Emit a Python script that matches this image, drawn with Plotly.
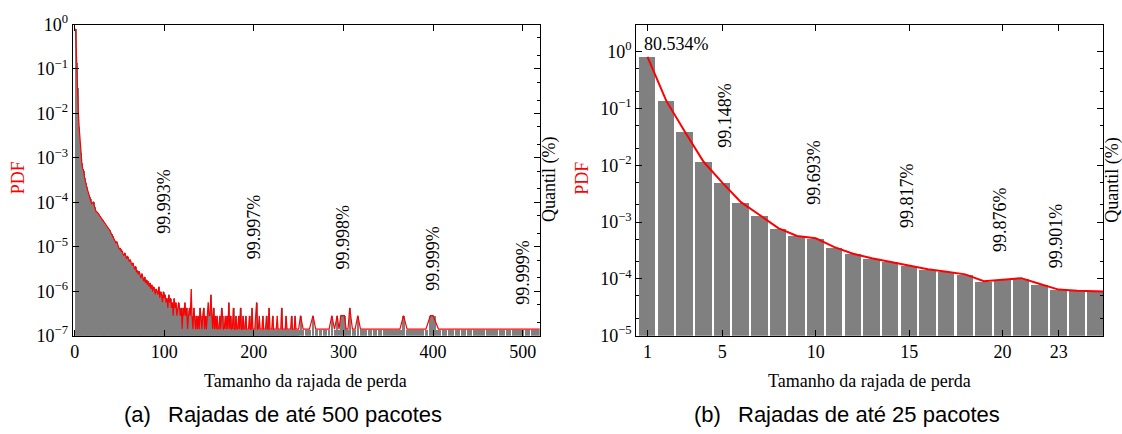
import plotly.graph_objects as go

# ---------------- data ----------------
N_TOTAL = 7.1e6  # number of loss bursts (counts -> PDF)

# left panel: burst sizes 1..250 (every size present)
dense_counts = [
    5717000, 972700, 277000, 81650, 35150, 15900, 9440, 5540, 4050, 3680,
    2580, 1970, 1640, 1430, 1235, 1050, 944, 852, 648, 694,
    731, 577, 460, 438, 432, 415, 380, 352, 330, 298,
    290, 262, 250, 231, 218, 201, 190, 175, 170, 152,
    140, 128, 118, 105, 100, 88, 92, 76, 70, 62,
    66, 55, 58, 49, 45, 52, 41, 38, 44, 35,
    33, 37, 29, 27, 31, 24, 22, 26, 19, 21,
    17, 20, 16, 14, 18, 13, 12, 15, 11, 13,
    10, 12, 9, 11, 8, 10, 7, 9, 8, 6,
    8, 7, 6, 9, 5, 7, 6, 4, 7, 5,
    6, 4, 5, 3, 6, 4, 5, 3, 4, 2,
    5, 3, 4, 2, 3, 4, 3, 2, 3, 1,
    3, 2, 4, 2, 3, 1, 2, 3, 2, 8,
    2, 1, 3, 2, 1, 2, 1, 2, 1, 3,
    2, 1, 2, 3, 1, 2, 1, 2, 4, 2,
    2, 6, 2, 1, 3, 1, 2, 1, 2, 1,
    1, 2, 1, 3, 2, 1, 1, 2, 1, 2,
    1, 4, 1, 2, 1, 1, 3, 1, 1, 2,
    1, 1, 2, 1, 3, 1, 1, 2, 1, 1,
    2, 1, 1, 1, 2, 1, 1, 3, 1, 1,
    1, 2, 4, 1, 1, 2, 1, 1, 1, 2,
    1, 1, 1, 2, 1, 1, 3, 1, 1, 1,
    2, 1, 1, 1, 1, 2, 1, 1, 1, 1,
    3, 1, 1, 1, 1, 2, 1, 1, 1, 1,
    1, 2, 1, 1, 1, 2, 1, 1, 1, 1,
]
dense_sizes = list(range(1, len(dense_counts) + 1))

# left panel: sparse tail (only sizes that occurred)
tail_sizes = [252, 255, 258, 262, 266, 269, 274, 279, 284, 287, 290, 293, 295, 297,
              299, 301, 303, 305, 307, 310, 313, 316, 319, 324, 329, 335, 340, 347,
              352, 358, 363, 367, 371, 377, 382, 388, 392, 397, 400, 406, 412, 420,
              427, 433, 441, 447, 455, 462, 469, 477, 484, 491, 498, 505, 512, 519, 526]
tail_counts = [2, 1, 1, 1, 2, 1, 1, 1, 1, 2, 1, 2, 1, 2,
               2, 2, 1, 1, 3, 1, 1, 2, 1, 1, 1, 1, 1, 1,
               1, 1, 1, 2, 1, 1, 1, 1, 1, 2, 2, 1, 1, 1,
               1, 1, 1, 1, 1, 1, 1, 1, 1, 1, 1, 1, 1, 1, 1]

left_quant_x = [100, 200, 300, 400, 500]
left_quant_y = [-3.98, -4.54, -4.78, -5.27, -5.57]   # log10 position of label centre
left_quant_text = ["99.993%", "99.997%", "99.998%", "99.999%", "99.999%"]

# right panel: burst sizes 1..26
right_sizes = list(range(1, 27))
right_pdf = [0.805, 0.137, 0.039, 0.0115, 0.00495, 0.00224, 0.00133, 0.00078, 0.00057,
             0.000518, 0.000363, 0.000277, 0.000231, 0.000201, 0.000174, 0.000148,
             0.000133, 0.00012, 0.0000913, 0.0000977, 0.000103, 0.0000812, 0.0000648,
             0.0000617, 0.0000609, 0.0000590]
right_quant_x = [5.13, 9.9, 14.87, 19.86, 22.86]
right_quant_y = [-1.117, -2.116, -2.527, -2.945, -3.25]
right_quant_text = ["99.148%", "99.693%", "99.817%", "99.876%", "99.901%"]

left_xticks = [0, 100, 200, 300, 400, 500]
right_xticks = [1, 5, 10, 15, 20, 23]

# ---------------- styling ----------------
GRAY = "rgb(128,128,128)"
RED = "rgb(255,0,0)"
SERIF = "Liberation Serif, Times New Roman, serif"
SANS = "Liberation Sans, Arial, sans-serif"
FS = 18

left_sizes = dense_sizes + tail_sizes
left_counts = dense_counts + tail_counts
left_pdf = [c / N_TOTAL for c in left_counts]

# box edges like gnuplot auto boxwidth (to midpoints of neighbours), small gap when sparse
edges_l, edges_r = [], []
for i, x in enumerate(left_sizes):
    prev_x = left_sizes[i - 1] if i > 0 else x - 1
    next_x = left_sizes[i + 1] if i + 1 < len(left_sizes) else x + 1
    lo = (prev_x + x) / 2 + (0.35 if x - prev_x > 1 else 0)
    hi = (x + next_x) / 2 - (0.35 if next_x - x > 1 else 0)
    edges_l.append(lo)
    edges_r.append(hi)
bar_c = [(a + b) / 2 for a, b in zip(edges_l, edges_r)]
bar_w = [b - a for a, b in zip(edges_l, edges_r)]

fig = go.Figure()
fig.add_trace(go.Bar(x=bar_c, y=left_pdf, width=bar_w, marker=dict(color=GRAY, line=dict(width=0)),
                     xaxis="x", yaxis="y", showlegend=False))
fig.add_trace(go.Scatter(x=left_sizes, y=left_pdf, mode="lines", line=dict(color=RED, width=1.2),
                         xaxis="x", yaxis="y", showlegend=False))
fig.add_trace(go.Bar(x=right_sizes, y=right_pdf, width=0.88, marker=dict(color=GRAY, line=dict(width=0)),
                     xaxis="x2", yaxis="y3", showlegend=False))
fig.add_trace(go.Scatter(x=right_sizes, y=right_pdf, mode="lines", line=dict(color=RED, width=2),
                         xaxis="x2", yaxis="y3", showlegend=False))

W, H = 1122, 434
L1, R1 = 72.7, 539.7
L2, R2 = 636.3, 1103.3
TOP, BOT = 24.5, 335.7
ydom = [(H - BOT) / H, (H - TOP) / H]

def majors(lo, hi):
    return [10.0 ** e for e in range(lo, hi + 1)]

def major_text(lo, hi):
    return ["10<sup>%s</sup>" % (("\u2212%d" % -e) if e < 0 else str(e)) for e in range(lo, hi + 1)]

def minors(lo, hi):
    return [m * 10.0 ** e for e in range(lo, hi) for m in (2, 5)]

axis_common = dict(showline=True, linecolor="black", linewidth=1.3, ticks="inside", ticklen=6,
                   tickcolor="black", showgrid=False, zeroline=False, automargin=False,
                   tickfont=dict(family=SERIF, size=FS, color="black"))

fig.update_layout(
    width=W, height=H, margin=dict(l=0, r=0, t=0, b=0, autoexpand=False),
    paper_bgcolor="white", plot_bgcolor="white", bargap=0, barmode="overlay",
    xaxis=dict(domain=[L1 / W, R1 / W], range=[-2.2, 519], anchor="y", tickvals=left_xticks,
               mirror="ticks", **axis_common),
    yaxis=dict(domain=ydom, type="log", range=[-7, 0], anchor="x", tickvals=majors(-7, 0),
               ticktext=major_text(-7, 0), **axis_common),
    yaxis2=dict(type="log", range=[-7, 0], overlaying="y", side="right", anchor="x",
                tickvals=majors(-7, 0), showticklabels=False,
                minor=dict(ticks="inside", ticklen=3, tickcolor="black", tickvals=minors(-7, 0)),
                **axis_common),
    xaxis2=dict(domain=[L2 / W, R2 / W], range=[0.4, 25.39], anchor="y3", tickvals=right_xticks,
                mirror="ticks", **axis_common),
    yaxis3=dict(domain=ydom, type="log", range=[-5, 0.477], anchor="x2", tickvals=majors(-5, 0),
                ticktext=major_text(-5, 0),
                minor=dict(ticks="inside", ticklen=3, tickcolor="black", tickvals=minors(-5, 0)),
                **axis_common),
    yaxis4=dict(type="log", range=[-5, 0.477], overlaying="y3", side="right", anchor="x2",
                tickvals=majors(-5, 0), showticklabels=False,
                minor=dict(ticks="inside", ticklen=3, tickcolor="black", tickvals=minors(-5, 0)),
                **axis_common),
)
# dummy traces so overlay axes render
fig.add_trace(go.Scatter(x=[None], y=[None], xaxis="x", yaxis="y2", showlegend=False))
fig.add_trace(go.Scatter(x=[None], y=[None], xaxis="x2", yaxis="y4", showlegend=False))

ann = []
for x, y, t in zip(left_quant_x, left_quant_y, left_quant_text):
    ann.append(dict(x=x, y=y, xref="x", yref="y", text=t, textangle=-90, showarrow=False,
                    xanchor="center", yanchor="middle", font=dict(family=SERIF, size=FS, color="black")))
for x, y, t in zip(right_quant_x, right_quant_y, right_quant_text):
    ann.append(dict(x=x, y=y, xref="x2", yref="y3", text=t, textangle=-90, showarrow=False,
                    xanchor="center", yanchor="middle", font=dict(family=SERIF, size=FS, color="black")))
ann.append(dict(x=0.69, y=0.14, xref="x2", yref="y3", text="80.534%", showarrow=False,
                xanchor="left", yanchor="middle", font=dict(family=SERIF, size=FS, color="black")))

def px_x(p):
    return p / W

def px_y(p):
    return (H - p) / H

for cx in (18.3, 581.7):
    ann.append(dict(x=px_x(cx), y=px_y(178), xref="paper", yref="paper", text="PDF", textangle=-90,
                    showarrow=False, xanchor="center", yanchor="middle",
                    font=dict(family=SERIF, size=FS, color=RED)))
for cx in (549, 1111.7):
    ann.append(dict(x=px_x(cx), y=px_y(180), xref="paper", yref="paper", text="Quantil (%)", textangle=-90,
                    showarrow=False, xanchor="center", yanchor="middle",
                    font=dict(family=SERIF, size=FS, color="black")))
for cx in (305.5, 869):
    ann.append(dict(x=px_x(cx), y=px_y(381), xref="paper", yref="paper", text="Tamanho da rajada de perda",
                    showarrow=False, xanchor="center", yanchor="middle",
                    font=dict(family=SERIF, size=FS, color="black")))
ann.append(dict(x=px_x(283), y=px_y(414), xref="paper", yref="paper",
                text="(a)\u2002 Rajadas de até 500 pacotes", showarrow=False, xanchor="center", yanchor="middle",
                font=dict(family=SANS, size=22, color="black")))
ann.append(dict(x=px_x(847), y=px_y(414), xref="paper", yref="paper",
                text="(b)\u2002 Rajadas de até 25 pacotes", showarrow=False, xanchor="center", yanchor="middle",
                font=dict(family=SANS, size=22, color="black")))
fig.update_layout(annotations=ann)

fig.write_html("out.html", config={"displayModeBar": False},
               post_script="document.body.style.margin='0';document.body.style.overflow='hidden';")
